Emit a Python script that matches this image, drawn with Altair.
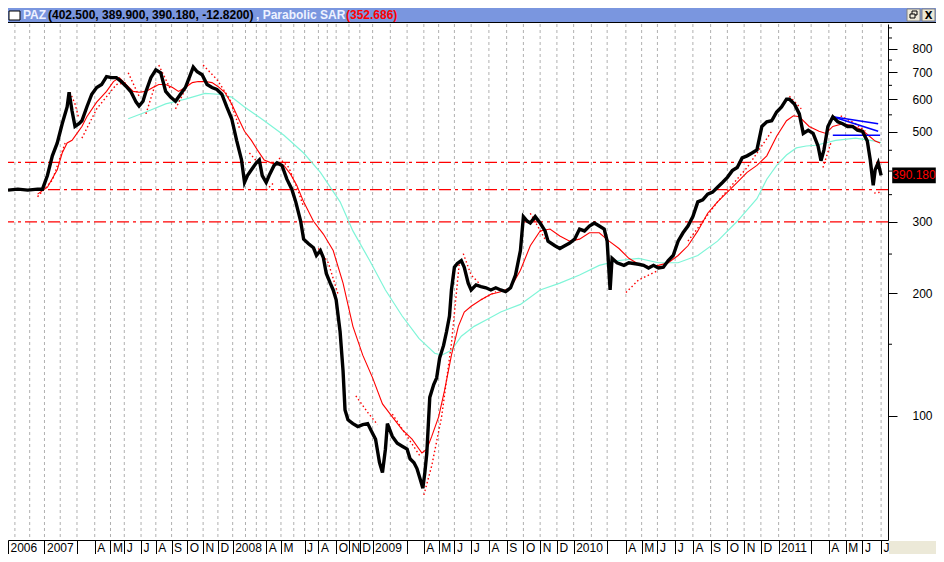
import altair as alt
import pandas as pd

# ---------------- data (x = bar position index, values = price) ----------------
close_x = [0, 10, 20, 30, 35, 40, 45, 50, 55, 60, 62, 65, 68, 72, 75, 80, 85, 90, 95, 100,
           105, 110, 115, 120, 125, 130, 133, 137, 140, 145, 150, 155, 160, 165, 170, 175, 180, 185, 188, 192,
           197, 202, 207, 212, 217, 222, 227, 232, 237, 240, 243, 247, 252, 255, 258, 262, 265, 270, 273, 278,
           283, 288, 292, 297, 300, 305, 310, 313, 317, 320, 323, 327, 330, 333, 337, 340, 342, 345, 350, 355,
           360, 365, 370, 373, 377, 380, 383, 385, 390, 395, 400, 405, 408, 412, 415, 418, 421, 423, 425, 428,
           432, 435, 438, 442, 445, 448, 450, 453, 456, 460, 463, 467, 470, 475, 480, 485, 490, 495, 500, 505,
           510, 515, 520, 523, 527, 530, 535, 540, 545, 548, 555, 560, 565, 570, 575, 580, 585, 590, 595, 600,
           605, 608, 611, 613, 618, 625, 630, 640, 645, 650, 655, 660, 665, 670, 675, 680, 685, 690, 695, 700,
           705, 710, 715, 720, 725, 730, 735, 740, 745, 750, 755, 760, 765, 770, 775, 780, 785, 790, 793, 798,
           803, 807, 812, 817, 822, 825, 828, 832, 837, 842, 847, 852, 857, 862, 867, 872, 875, 878, 880, 883, 886]
close_v = [359, 361, 359, 361, 361, 390, 436, 469, 523, 575, 625, 562, 515, 523, 532, 575, 618, 642, 653, 683,
           679, 679, 664, 646, 625, 591, 578, 594, 628, 679, 710, 698, 628, 608, 594, 618, 642, 690, 721, 702,
           690, 653, 642, 635, 618, 575, 538, 476, 426, 375, 390, 403, 419, 426, 390, 375, 390, 413, 419, 413,
           382, 361, 336, 301, 272, 265, 259, 248, 255, 245, 224, 212, 204, 193, 161, 129, 103.4, 97.8, 95.7, 94.1,
           95.1, 95.7, 90.5, 87.6, 76.7, 72.5, 82.8, 95.7, 89.0, 85.6, 84.2, 82.8, 78.4, 76.7, 74.2, 70.2, 66.4, 72.5, 81.0, 111,
           119.4, 124, 138.7, 149, 161, 176, 204, 232, 237, 241, 232, 212, 204, 210, 208, 206.5, 204, 206.5, 204, 202,
           206.5, 222, 255, 309, 301, 298, 309, 298, 285, 269, 262, 258, 262, 266, 272, 288, 285, 293, 298, 293,
           288, 269, 204, 244, 238, 234.5, 238, 236, 234.5, 231, 234.5, 231, 232, 241, 248, 269, 282, 293, 309, 336,
           340, 351, 355, 365, 375, 386, 401, 408, 431, 436, 443, 451, 515, 529, 532, 559, 575, 601, 601, 585,
           553, 495, 504, 495, 461, 424, 451, 515, 544, 529, 523, 515, 515, 504, 501, 474, 426, 369, 403, 419, 390.18]

ma_x = [30, 40, 50, 55, 60, 65, 70, 75, 80, 90, 100, 107, 113, 120, 127, 133, 140, 147, 153, 160,
        167, 173, 180, 187, 193, 200, 207, 213, 220, 227, 233, 240, 247, 253, 260, 267, 273, 280, 287, 293,
        300, 310, 320, 330, 340, 350, 360, 370, 380, 390, 400, 410, 420, 425, 430, 437, 443, 450, 457, 463,
        470, 480, 490, 500, 510, 520, 530, 540, 550, 560, 570, 580, 590, 600, 610, 620, 630, 640, 650, 660,
        670, 680, 690, 700, 710, 720, 730, 740, 750, 760, 770, 780, 790, 797, 803, 813, 823, 830, 837, 847,
        857, 867, 873, 880, 885]
ma_v = [351, 365, 403, 443, 469, 476, 495, 515, 544, 591, 628, 664, 679, 653, 628, 625, 628, 642, 653, 653,
        642, 628, 642, 660, 664, 664, 660, 646, 625, 585, 544, 501, 476, 451, 426, 419, 415, 413, 392, 369,
        336, 301, 280, 255, 212, 166, 141, 124, 107, 99.4, 92.5, 87.6, 81.0, 82.8, 89.0, 99.4, 115.5, 141, 166, 180,
        186, 193, 199, 202, 206.5, 228, 262, 285, 288, 277, 269, 272, 282, 282, 269, 258, 244, 236, 233, 234.5,
        238, 248, 262, 285, 315, 336, 355, 375, 397, 413, 436, 487, 532, 547, 544, 515, 501, 495, 515, 523,
        518, 504, 490, 474, 469]

slow_x = [122, 140, 160, 180, 200, 213, 227, 240, 260, 280, 300, 317, 337, 350, 367, 383, 400, 417, 433, 440,
          450, 460, 473, 487, 500, 520, 540, 560, 580, 600, 620, 640, 660, 680, 700, 720, 740, 760, 770, 780,
          790, 800, 810, 820, 840, 860, 880, 886]
slow_v = [538, 559, 585, 601, 621, 618, 608, 575, 532, 490, 443, 397, 336, 285, 241, 204, 176, 155, 142.5, 141,
          145, 157, 166, 173, 180, 188, 204, 212, 222, 234.5, 241, 244, 238, 238, 248, 269, 301, 342, 382, 413,
          438, 456, 461, 463, 476, 482, 474, 470]

sar_seg = [1, 1, 1, 2, 2, 2, 3, 3, 3, 3, 4, 4, 5, 5, 6, 6, 7, 7, 8, 8, 8, 8, 9, 9, 10, 10,
           11, 11, 11, 11, 12, 12, 12, 13, 13, 13, 14, 14, 14, 15, 15, 15, 15, 15, 16, 16, 16, 17, 17,
           18, 18, 19, 19, 19, 20, 20, 20, 20, 21, 21, 22, 22, 23, 23, 23, 24, 24]
sar_x = [30, 45, 58, 63, 68, 72, 75, 90, 110, 120, 122, 133, 140, 150, 153, 165, 170, 185, 198, 212, 225, 235, 245, 258, 262, 270,
         275, 285, 293, 300, 315, 325, 335, 353, 365, 375, 390, 405, 418, 422, 430, 440, 450, 458, 462, 470, 478, 480, 495,
         530, 545, 627, 640, 660, 690, 720, 750, 775, 793, 805, 827, 835, 845, 860, 870, 879, 886]
sar_v = [346, 380, 469, 625, 585, 538, 482, 569, 653, 660, 698, 611, 553, 660, 729, 635, 569, 672, 729, 672, 601, 509, 443, 408, 359, 375,
         431, 408, 365, 327, 258, 238, 199, 112, 102, 95.1, 101, 89, 79.7, 63.9, 75.4, 99.4, 150.6, 238, 250.6, 222, 212, 193, 202,
         315, 272, 201, 216, 228, 269, 336, 408, 501, 611, 569, 408, 469, 547, 523, 501, 353, 355]

tri_seg = [1, 1, 2, 2, 3, 3]
tri_x = [837, 883, 837, 883, 837, 885]
tri_v = [544, 523, 544, 501, 490, 490]

levels = [300, 360, 420]

month_pos = [7, 22, 37, 53, 70, 88, 104, 118, 135, 150, 166, 182, 198, 213,
             228, 241, 252, 262, 277, 290, 301, 315, 324, 333, 346, 357,
             370, 388, 405, 422, 437, 453, 470, 488, 506, 523, 540, 557,
             574, 592, 608, 627, 643, 659, 677, 695, 713, 730, 747, 764,
             782, 798, 815, 833, 850, 867, 886]
tick_pos = [0, 37, 70, 88, 104, 118, 135, 150, 166, 182, 198, 213,
            228, 262, 277, 301, 315, 333, 346, 357,
            370, 405, 422, 437, 453, 470, 488, 506, 523, 540, 557,
            574, 608, 627, 643, 659, 677, 695, 713, 730, 747, 764,
            782, 815, 833, 850, 867, 886]
tick_lab = ["2006", "2007", "", "A", "M", "J", "J", "A", "S", "O", "N", "D",
            "2008", "A", "M", "J", "A", "O", "N", "D",
            "2009", "", "A", "M", "J", "J", "A", "S", "O", "N", "D",
            "2010", "", "A", "M", "J", "J", "A", "S", "O", "N", "D",
            "2011", "", "A", "M", "J", "J"]

y_major = [100, 200, 300, 500, 600, 700, 800]
y_minor = [150, 250, 350, 400, 450, 550, 650, 750, 850, 900]
last_close = 390.18

# ---------------- layout ----------------
W, H = 880, 516
FONT = "Liberation Sans"

xs = alt.Scale(domain=[0, 893], nice=False, zero=False)
ys = alt.Scale(type="log", domain=[49.5, 920], nice=False)

labexpr = "[" + ",".join("'%s'" % s for s in tick_lab) + "][indexof([" + ",".join(str(p) for p in tick_pos) + "], datum.value)]"
xax = alt.Axis(values=tick_pos, labelExpr=labexpr, title=None, grid=False, orient="bottom",
               tickSize=14, tickColor="black", domainColor="black", labelColor="black",
               labelAlign="left", labelBaseline="top", labelPadding=-12, labelOffset=2,
               labelFont=FONT, labelFontSize=12, labelOverlap=False, labelFlush=False, labelBound=False)
yax = alt.Axis(values=y_major, format="d", title=None, grid=False, orient="right",
               tickSize=9, tickColor="black", domainColor="black", labelColor="black",
               labelAlign="left", labelPadding=15, labelFont=FONT, labelFontSize=12,
               labelOverlap=False, labelFlush=False, labelBound=False)

X = lambda f: alt.X(f + ":Q", scale=xs, axis=xax)
Y = lambda f: alt.Y(f + ":Q", scale=ys, axis=yax)

df_close = pd.DataFrame({"x": close_x, "v": close_v})
df_ma = pd.DataFrame({"x": ma_x, "v": ma_v})
df_slow = pd.DataFrame({"x": slow_x, "v": slow_v})
df_sar = pd.DataFrame({"seg": sar_seg, "x": sar_x, "v": sar_v})
df_tri = pd.DataFrame({"seg": tri_seg, "x": tri_x, "v": tri_v})
df_lvl = pd.DataFrame({"v": levels})
df_grid = pd.DataFrame({"x": month_pos})
df_minor = pd.DataFrame({"v": y_minor})
df_last = pd.DataFrame({"v": [last_close], "t": ["390.180"]})
one = pd.DataFrame({"a": [0]})

grid = alt.Chart(df_grid).mark_rule(color="#b0b0b0", strokeDash=[3, 3], strokeWidth=1).encode(x=X("x"))
lvl = alt.Chart(df_lvl).mark_rule(color="#ff0000", strokeDash=[12, 4, 3, 4], strokeWidth=1.3).encode(y=Y("v"))
slow = alt.Chart(df_slow).mark_line(color="#7ff5d8", strokeWidth=1.2).encode(x=X("x"), y=Y("v"))
ma = alt.Chart(df_ma).mark_line(color="#ff0000", strokeWidth=1.1).encode(x=X("x"), y=Y("v"))
sar = alt.Chart(df_sar).mark_line(color="#ff0000", strokeWidth=1.4, strokeDash=[1.5, 2.5]).encode(
    x=X("x"), y=Y("v"), detail="seg:N")
tri = alt.Chart(df_tri).mark_line(color="#0000ff", strokeWidth=1.5).encode(x=X("x"), y=Y("v"), detail="seg:N")
price = alt.Chart(df_close).mark_line(color="black", strokeWidth=3.4).encode(x=X("x"), y=Y("v"))

minor = alt.Chart(df_minor).mark_rule(color="black").encode(y=Y("v"), x=alt.value(W), x2=alt.value(W + 4))

# value box on the price axis
vbox = alt.Chart(df_last).mark_point(shape="M-1,-0.36L1,-0.36L1,0.36L-1,0.36Z", size=1900,
                                     filled=True, color="black", opacity=1).encode(
    y=Y("v"), x=alt.value(W + 26))
vtxt = alt.Chart(df_last).mark_text(color="#ff0000", font=FONT, fontSize=12, baseline="middle", align="center").encode(
    y=Y("v"), x=alt.value(W + 26), text="t:N")

# window decorations
bar = alt.Chart(one).mark_rect(color="#7a96df").encode(x=alt.value(0), x2=alt.value(W + 48), y=alt.value(-16), y2=alt.value(-2))
barline = alt.Chart(one).mark_rule(color="black", strokeWidth=1).encode(x=alt.value(0), x2=alt.value(W + 48), y=alt.value(-1.5))
icon = alt.Chart(one).mark_rect(fill="white", stroke="black", strokeWidth=1).encode(
    x=alt.value(1), x2=alt.value(12), y=alt.value(-13), y2=alt.value(-4))
btn1 = alt.Chart(one).mark_rect(fill="#ece9d8", stroke="#808080").encode(x=alt.value(899), x2=alt.value(912), y=alt.value(-15), y2=alt.value(-3))
btn2 = alt.Chart(one).mark_rect(fill="#ece9d8", stroke="#808080").encode(x=alt.value(914), x2=alt.value(927), y=alt.value(-15), y2=alt.value(-3))
rst1 = alt.Chart(one).mark_rect(fill=None, stroke="black", strokeWidth=1).encode(x=alt.value(904), x2=alt.value(909), y=alt.value(-13), y2=alt.value(-9))
rst2 = alt.Chart(one).mark_rect(fill="#ece9d8", stroke="black", strokeWidth=1).encode(x=alt.value(902), x2=alt.value(907), y=alt.value(-10), y2=alt.value(-6))
xbtn = alt.Chart(one).mark_text(text="X", font="DejaVu Sans", fontWeight="bold", fontSize=10, color="black",
                                align="center", baseline="middle").encode(x=alt.value(920.5), y=alt.value(-8.5))

def ttxt(s, x, col):
    return alt.Chart(one).mark_text(text=s, font=FONT, fontWeight="bold", fontSize=12, color=col,
                                    align="left", baseline="alphabetic").encode(x=alt.value(x), y=alt.value(-5))

t1 = ttxt("PAZ", 15, "#eef2ff")
t2 = ttxt("(402.500, 389.900, 390.180, -12.8200)", 40, "black")
t3 = ttxt(", Parabolic SAR", 248, "#eef2ff")
t4 = ttxt("(352.686)", 338, "#ff0000")

corner = alt.Chart(one).mark_rect(color="#ece9d8").encode(x=alt.value(W + 1), x2=alt.value(W + 48), y=alt.value(H + 1), y2=alt.value(H + 14))

chart = alt.layer(
    grid, lvl, slow, ma, sar, tri, price, minor, vbox, vtxt,
    bar, barline, icon, btn1, btn2, rst1, rst2, xbtn, t1, t2, t3, t4, corner
).properties(
    width=W, height=H,
    autosize=alt.AutoSizeParams(type="none"),
    padding={"left": 0, "top": 16, "right": 48, "bottom": 14},
    background="white",
).configure_view(stroke=None)

chart.save("out.html", embed_options={"renderer": "svg", "actions": False})
